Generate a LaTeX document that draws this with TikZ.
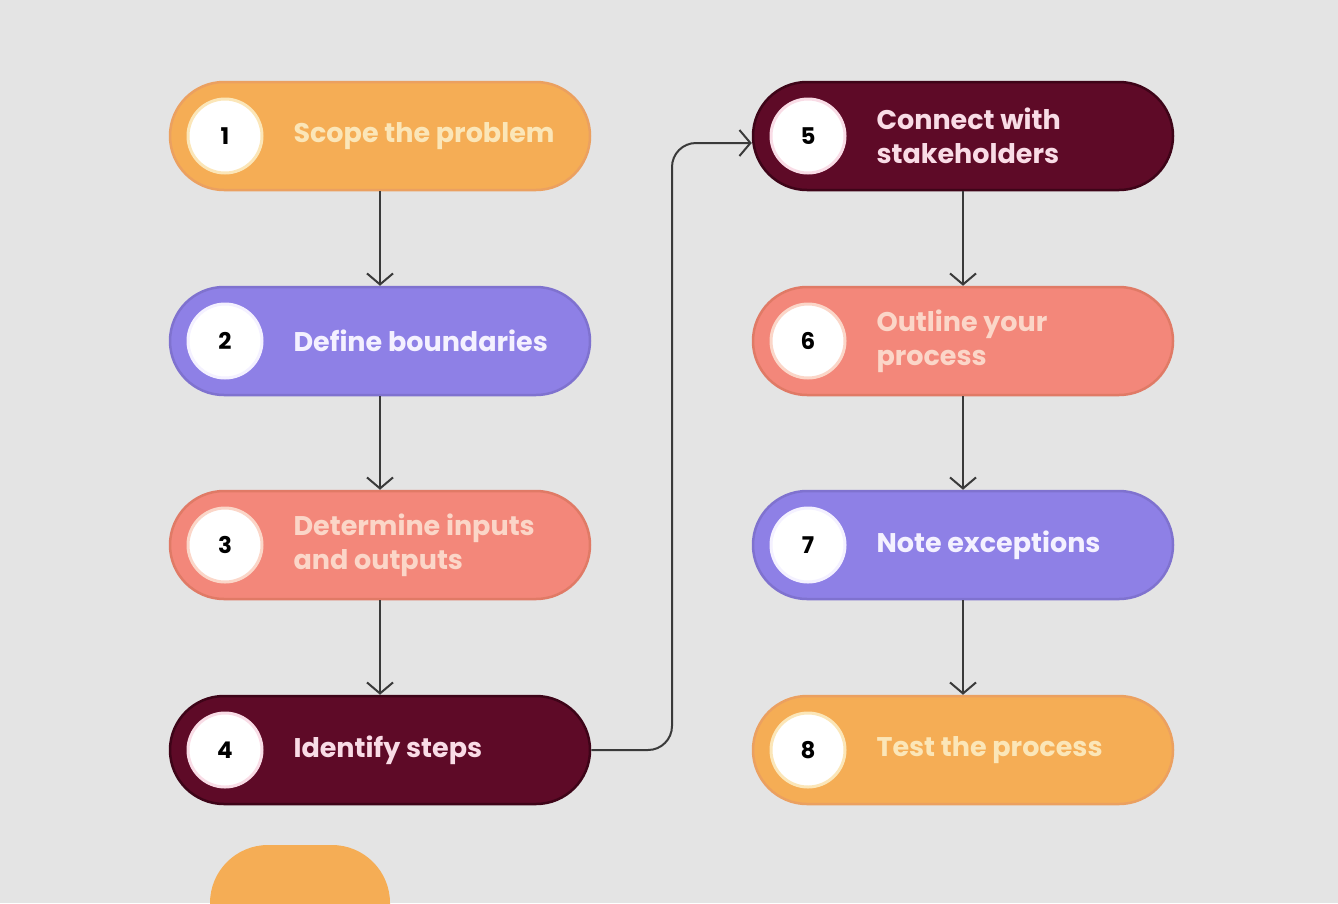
\documentclass[tikz,border=0pt]{standalone}
\usepackage{fontspec}
\setmainfont{Poppins}
\usetikzlibrary{arrows.meta}
\definecolor{bgc}{HTML}{E4E4E4}
\definecolor{orng}{HTML}{F5AD55}
\definecolor{orngd}{HTML}{EBA060}
\definecolor{orngt}{HTML}{FBE6B8}
\definecolor{purp}{HTML}{8E80E6}
\definecolor{purpd}{HTML}{7F72CF}
\definecolor{purpt}{HTML}{F4F1FF}
\definecolor{salm}{HTML}{F3877A}
\definecolor{salmd}{HTML}{E07A66}
\definecolor{salmt}{HTML}{FBD6C8}
\definecolor{maro}{HTML}{5E0A27}
\definecolor{marod}{HTML}{3E0418}
\definecolor{marot}{HTML}{F9DCE6}
\definecolor{arrc}{HTML}{3A3A3A}
\tikzset{
  pill/.style={rectangle, rounded corners=54pt, minimum width=420pt, minimum height=108pt, line width=2.5pt},
  numc/.style={circle, fill=white, minimum size=74pt, inner sep=0pt, line width=3pt, font=\fontsize{23}{28}\selectfont\bfseries, text=black},
  lbl/.style={anchor=west, align=left, font=\fontsize{27}{34}\selectfont\bfseries},
  flow/.style={draw=arrc, line width=2pt, -{Straight Barb[length=11pt,width=26pt,line width=2pt]}},
}
\begin{document}
\begin{tikzpicture}[x=1pt,y=-1pt]
\useasboundingbox (0,0) rectangle (1338,903);
\clip (0,0) rectangle (1338,903);
\fill[bgc] (0,0) rectangle (1338,903);
% left column
\node[pill, fill=orng, draw=orngd] (p1) at (380,136) {};
\node[pill, fill=purp, draw=purpd] (p2) at (380,341) {};
\node[pill, fill=salm, draw=salmd] (p3) at (380,545) {};
\node[pill, fill=maro, draw=marod] (p4) at (380,750) {};
% right column
\node[pill, fill=maro, draw=marod] (p5) at (963,136) {};
\node[pill, fill=salm, draw=salmd] (p6) at (963,341) {};
\node[pill, fill=purp, draw=purpd] (p7) at (963,545) {};
\node[pill, fill=orng, draw=orngd] (p8) at (963,750) {};
% number circles
\node[numc, draw=orngt] (c1) at (225,136) {1};
\node[numc, draw=purpt] (c2) at (225,341) {2};
\node[numc, draw=salmt] (c3) at (225,545) {3};
\node[numc, draw=marot] (c4) at (225,750) {4};
\node[numc, draw=marot] (c5) at (808,136) {5};
\node[numc, draw=salmt] (c6) at (808,341) {6};
\node[numc, draw=purpt] (c7) at (808,545) {7};
\node[numc, draw=orngt] (c8) at (808,750) {8};
% labels
\node[lbl, text=orngt] (t1) at (290,136) {Scope the problem};
\node[lbl, text=purpt] (t2) at (290,341) {Define boundaries};
\node[lbl, text=salmt] (t3) at (290,545) {Determine inputs\\and outputs};
\node[lbl, text=marot] (t4) at (290,750) {Identify steps};
\node[lbl, text=marot] (t5) at (873,136) {Connect with\\stakeholders};
\node[lbl, text=salmt] (t6) at (873,341) {Outline your\\process};
\node[lbl, text=purpt] (t7) at (873,545) {Note exceptions};
\node[lbl, text=orngt] (t8) at (873,750) {Test the process};
% connectors
\draw[flow] (p1.south) -- (p2.north);
\draw[flow] (p2.south) -- (p3.north);
\draw[flow] (p3.south) -- (p4.north);
\draw[flow] (p5.south) -- (p6.north);
\draw[flow] (p6.south) -- (p7.north);
\draw[flow] (p7.south) -- (p8.north);
\coordinate (bend) at (672,143);
\draw[flow, rounded corners=24pt] (p4.east) -| (bend) -- (p5.west |- bend);
% partial shape at the bottom
\fill[orng, rounded corners=58pt] (210,1000) -- (210,845) -- (390,845) -- (390,1000) -- cycle;
\end{tikzpicture}
\end{document}
